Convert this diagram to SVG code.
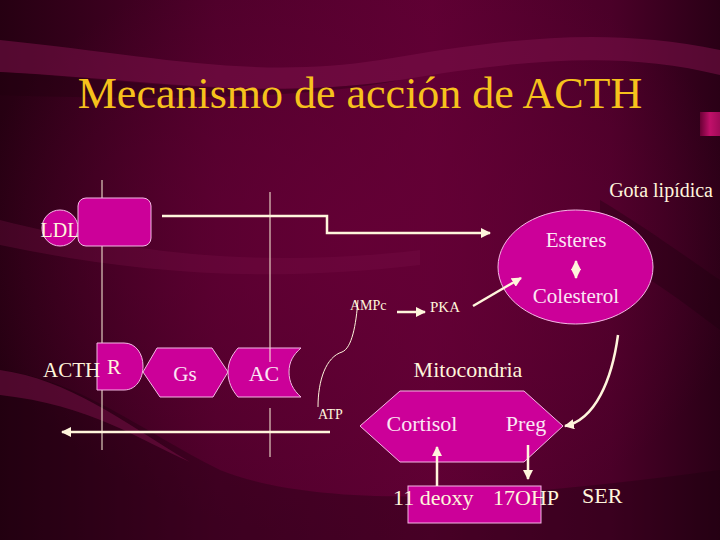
<svg xmlns="http://www.w3.org/2000/svg" width="720" height="540" viewBox="0 0 720 540">
<defs>
<linearGradient id="bg" x1="0" y1="0" x2="1" y2="0">
<stop offset="0" stop-color="#260012"/>
<stop offset="0.3" stop-color="#4e002a"/>
<stop offset="0.6" stop-color="#5e0033"/>
<stop offset="0.85" stop-color="#4a0028"/>
<stop offset="1" stop-color="#2a0016"/>
</linearGradient>
<radialGradient id="glow" cx="0.5" cy="0.45" r="0.55">
<stop offset="0" stop-color="#660036" stop-opacity="0.8"/>
<stop offset="1" stop-color="#660036" stop-opacity="0"/>
</radialGradient>
<linearGradient id="pinkbar" x1="0" y1="0" x2="1" y2="0">
<stop offset="0" stop-color="#6a0035"/>
<stop offset="0.5" stop-color="#c0106a"/>
<stop offset="1" stop-color="#a00a58"/>
</linearGradient>
<marker id="ah" viewBox="0 0 10 10" refX="9" refY="5" markerWidth="4" markerHeight="4" orient="auto-start-reverse">
<path d="M0,0 L10,5 L0,10 Z" fill="#fff5dc"/>
</marker>
<style>
text{font-family:'Liberation Serif','DejaVu Serif',serif}
.t{fill:#fff5dc}
.tp{fill:#fbe6f4}
.shape{fill:#cc0099;stroke:#f4b8e4;stroke-width:1}
.line{stroke:#fff5dc;stroke-width:1;fill:none}
.arrow{stroke:#fff5dc;stroke-width:2.5;fill:none}
</style>
</defs>
<g id="background">
<rect width="720" height="540" fill="url(#bg)"/>
<rect width="720" height="540" fill="url(#glow)"/>
<path d="M0,40 C150,55 250,80 380,60 C500,40 600,25 720,50 L720,75 C620,50 520,60 400,80 C260,100 150,80 0,72 Z" fill="#7a1048" opacity="0.55"/>
<path d="M0,72 C150,82 260,100 400,80 C300,100 150,100 0,95 Z" fill="#20000f" opacity="0.35"/>
<path d="M0,370 C80,380 140,430 220,470 C320,510 500,500 720,470 L720,540 L0,540 Z" fill="#1e000d" opacity="0.35"/>
<path d="M0,370 C70,380 120,420 190,462 C140,440 90,405 0,395 Z" fill="#7a1048" opacity="0.5"/>
<path d="M0,220 C120,250 250,270 420,250 L420,265 C250,285 120,270 0,245 Z" fill="#7a1048" opacity="0.3"/>
<path d="M600,200 C650,230 690,260 720,280 L720,330 C680,300 640,270 600,250 Z" fill="#1e000d" opacity="0.35"/>
<rect x="700" y="112" width="20" height="24" fill="url(#pinkbar)"/>
</g>
<text x="360" y="108" font-family="'Liberation Serif', 'Times New Roman', serif" font-size="44" text-anchor="middle" fill="#f6c21c">Mecanismo de acción de ACTH</text>
<g id="connectors">
<line class="line" x1="102" y1="180" x2="102" y2="450"/>
<line class="line" x1="270" y1="192" x2="270" y2="362"/>
<line class="line" x1="270" y1="408" x2="270" y2="457"/>
<path class="arrow" d="M162,216 H327 V233 H490" marker-end="url(#ah)"/>
<path class="arrow" d="M330,432 H62" marker-end="url(#ah)"/>
<path class="arrow" d="M397,312 H425" marker-end="url(#ah)"/>
<path class="line" d="M358,300 C356,325 352,348 342,352 C326,357 318,380 318,407"/>
<path class="arrow" d="M618,335 C612,380 595,420 565,426" marker-end="url(#ah)"/>
</g>
<g id="ldl">
<circle cx="60" cy="228" r="18" class="shape"/>
<text class="t" x="60" y="237" font-size="20" text-anchor="middle">LDL</text>
</g>
<g id="ldl-receptor">
<rect x="78" y="198" width="73" height="48" rx="8" class="shape"/>
</g>
<g id="gota">
<ellipse cx="575.5" cy="267" rx="77.5" ry="57" class="shape"/>
<text class="tp" x="576" y="247" font-size="21" text-anchor="middle">Esteres</text>
<text class="tp" x="576" y="303" font-size="21" text-anchor="middle">Colesterol</text>
<path class="arrow" d="M576,261 V278" marker-start="url(#ah)" marker-end="url(#ah)"/>
<text class="t" x="713" y="197" font-size="20" text-anchor="end">Gota lipídica</text>
</g>
<g id="ampc"><text class="t" x="350" y="310" font-size="14">AMPc</text></g>
<g id="pka"><text class="t" x="430" y="312" font-size="15">PKA</text></g>
<g id="atp"><text class="t" x="318" y="419" font-size="14">ATP</text></g>
<g id="receptor">
<path class="shape" d="M97,343 H124 C136,343 143,354 143,366 C143,379 136,390 124,390 H97 Z"/>
<text class="t" x="43" y="377" font-size="21">ACTH</text>
<text class="t" x="107" y="374" font-size="21">R</text>
</g>
<g id="gs">
<polygon class="shape" points="143,372 157,348 212,348 228,372 213,397 160,397"/>
<text class="tp" x="185" y="381" font-size="21" text-anchor="middle">Gs</text>
</g>
<g id="ac">
<path class="shape" d="M238,348 H301 C293,355 289,362 289,372 C289,382 293,390 301,397 H238 C232,390 228,382 228,372 C228,362 232,355 238,348 Z"/>
<line class="line" x1="270" y1="348" x2="270" y2="362"/>
<text class="tp" x="264" y="381" font-size="22" text-anchor="middle">AC</text>
</g>
<g id="mitocondria">
<polygon class="shape" points="360,426 400,391 524,391 563,426 524,462 400,462"/>
<text class="t" x="468" y="377" font-size="22" text-anchor="middle">Mitocondria</text>
<text class="tp" x="422" y="431" font-size="22" text-anchor="middle">Cortisol</text>
<text class="tp" x="526" y="431" font-size="22" text-anchor="middle">Preg</text>
</g>
<g id="ser">
<rect x="408" y="486" width="133" height="37" class="shape"/>
<text class="t" x="393" y="505" font-size="22">11 deoxy</text>
<text class="t" x="493" y="505" font-size="22">17OHP</text>
<text class="t" x="582" y="503" font-size="22">SER</text>
</g>
<g id="overlay-arrows">
<path class="arrow" d="M437,486 V447" marker-end="url(#ah)"/>
<path class="arrow" d="M528,445 V479" marker-end="url(#ah)"/>
<path class="arrow" d="M473,306 L521,278" marker-end="url(#ah)"/>
</g>
</svg>
